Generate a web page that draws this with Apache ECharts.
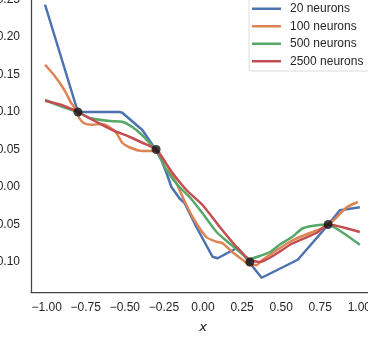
<!DOCTYPE html>
<html lang="en">
<head>
  <meta charset="UTF-8">
  <title>neurons fit</title>
  <script src="https://cdn.jsdelivr.net/npm/echarts@6/dist/echarts.min.js"></script>
  <style>
    body { margin: 0; background: #fff; }
    #main { width: 368px; height: 353px; }
  </style>
</head>
<body>
  <div id="main"></div>
  <script>
    // 各条曲线的取样点 (x, y)
    var x20 = [-1.01, -0.8, -0.535, -0.516, -0.388, -0.3, -0.266, -0.234, -0.202, -0.151, -0.119, -0.043, 0.061, 0.093, 0.221, 0.247, 0.298, 0.375, 0.606, 0.798, 0.875, 1.003]
    var y20 = [0.243, 0.1, 0.1, 0.099, 0.076, 0.049, 0.036, 0.019, 0.0, -0.015, -0.021, -0.053, -0.093, -0.095, -0.081, -0.087, -0.101, -0.121, -0.097, -0.051, -0.031, -0.027]

    var x100 = [-1.01, -0.952, -0.907, -0.875, -0.843, -0.8, -0.792, -0.76, -0.708, -0.651, -0.599, -0.554, -0.516, -0.471, -0.388, -0.33, -0.3, -0.17, -0.131, -0.067, 0.022, 0.087, 0.125, 0.189, 0.247, 0.298, 0.343, 0.381, 0.574, 0.798, 0.92, 0.99]
    var y100 = [0.163, 0.149, 0.136, 0.125, 0.112, 0.1, 0.092, 0.085, 0.083, 0.084, 0.08, 0.072, 0.059, 0.053, 0.048, 0.048, 0.049, 0.005, -0.013, -0.04, -0.067, -0.073, -0.075, -0.087, -0.096, -0.104, -0.104, -0.097, -0.071, -0.051, -0.027, -0.02]

    var x500 = [-1.01, -0.9, -0.8, -0.728, -0.599, -0.516, -0.452, -0.388, -0.33, -0.3, -0.234, -0.151, -0.087, -0.003, 0.087, 0.157, 0.221, 0.298, 0.362, 0.426, 0.49, 0.574, 0.638, 0.728, 0.8, 0.894, 1.003]
    var y500 = [0.116, 0.107, 0.1, 0.092, 0.088, 0.087, 0.08, 0.069, 0.056, 0.05, 0.023, 0.0, -0.013, -0.035, -0.06, -0.073, -0.084, -0.096, -0.092, -0.087, -0.077, -0.066, -0.055, -0.051, -0.05, -0.061, -0.077]

    var x2500 = [-1.01, -0.9, -0.8, -0.683, -0.58, -0.471, -0.388, -0.3, -0.196, -0.106, -0.003, 0.106, 0.215, 0.298, 0.362, 0.574, 0.728, 0.8, 1.003]
    var y2500 = [0.115, 0.109, 0.1, 0.087, 0.076, 0.067, 0.059, 0.05, 0.019, -0.004, -0.024, -0.053, -0.08, -0.097, -0.1, -0.075, -0.061, -0.05, -0.06]

    // 训练点
    var trainX = [-0.8, -0.3, 0.3, 0.8]
    var trainY = [0.1, 0.05, -0.1, -0.05]

    var xTicks = [-1, -0.75, -0.5, -0.25, 0, 0.25, 0.5, 0.75, 1]
    var yTicks = [-0.1, -0.05, 0, 0.05, 0.1, 0.15, 0.2, 0.25]

    var names = ['20 neurons', '100 neurons', '500 neurons', '2500 neurons']
    var colors = ['#4c72b0', '#dd8452', '#55a868', '#c44e52']

    function pairs(xs, ys) {
      return xs.map(function (v, i) { return [v, ys[i]] })
    }
    function fmt(v) {
      return v.toFixed(2).replace('-', '\u2212')
    }

    var lineData = [pairs(x20, y20), pairs(x100, y100), pairs(x500, y500), pairs(x2500, y2500)]
    var series = lineData.map(function (d, i) {
      return {
        name: names[i],
        type: 'line',
        data: d,
        showSymbol: false,
        smooth: i === 0 ? false : 0.2,
        lineStyle: { color: colors[i], width: 2.5 },
        itemStyle: { color: colors[i] },
        z: 2 + i
      }
    })
    series.push({
      type: 'scatter',
      data: pairs(trainX, trainY),
      symbolSize: 9,
      itemStyle: { color: '#111' },
      z: 10
    })

    var mCharts = echarts.init(document.getElementById('main'))
    var option = {
      animation: false,
      textStyle: { fontFamily: 'Liberation Sans' },
      grid: { left: 31, right: -7, top: -8, bottom: 61, outerBoundsMode: 'none', containLabel: false },
      legend: {
        data: names,
        orient: 'vertical',
        left: 249,
        top: -20,
        padding: [20, 14, 1, 3],
        itemGap: 0,
        itemWidth: 29,
        itemHeight: 2.5,
        icon: 'rect',
        backgroundColor: '#fff',
        borderColor: '#dcdcdc',
        borderWidth: 1,
        borderRadius: 3,
        textStyle: { fontSize: 12, color: '#262626', lineHeight: 17.5, padding: [0, 0, 0, 4], fontFamily: 'Liberation Sans' }
      },
      xAxis: {
        type: 'value',
        min: -1.1,
        max: 1.1,
        name: 'x',
        nameLocation: 'middle',
        nameGap: 29,
        nameTextStyle: { fontSize: 13, fontStyle: 'italic', color: '#262626', fontFamily: 'DejaVu Sans' },
        splitLine: { show: false },
        axisTick: { show: false },
        axisLine: { onZero: false, lineStyle: { color: '#444', width: 1.25 } },
        axisLabel: {
          customValues: xTicks,
          formatter: fmt,
          fontSize: 12,
          color: '#262626',
          margin: 10
        }
      },
      yAxis: {
        type: 'value',
        min: -0.14,
        max: 0.26,
        splitLine: { show: false },
        axisTick: { show: false },
        axisLine: { show: true, onZero: false, lineStyle: { color: '#444', width: 1.25 } },
        axisLabel: {
          customValues: yTicks,
          formatter: fmt,
          fontSize: 12,
          color: '#262626',
          margin: 11
        }
      },
      series: series
    }
    mCharts.setOption(option)
  </script>
</body>
</html>
